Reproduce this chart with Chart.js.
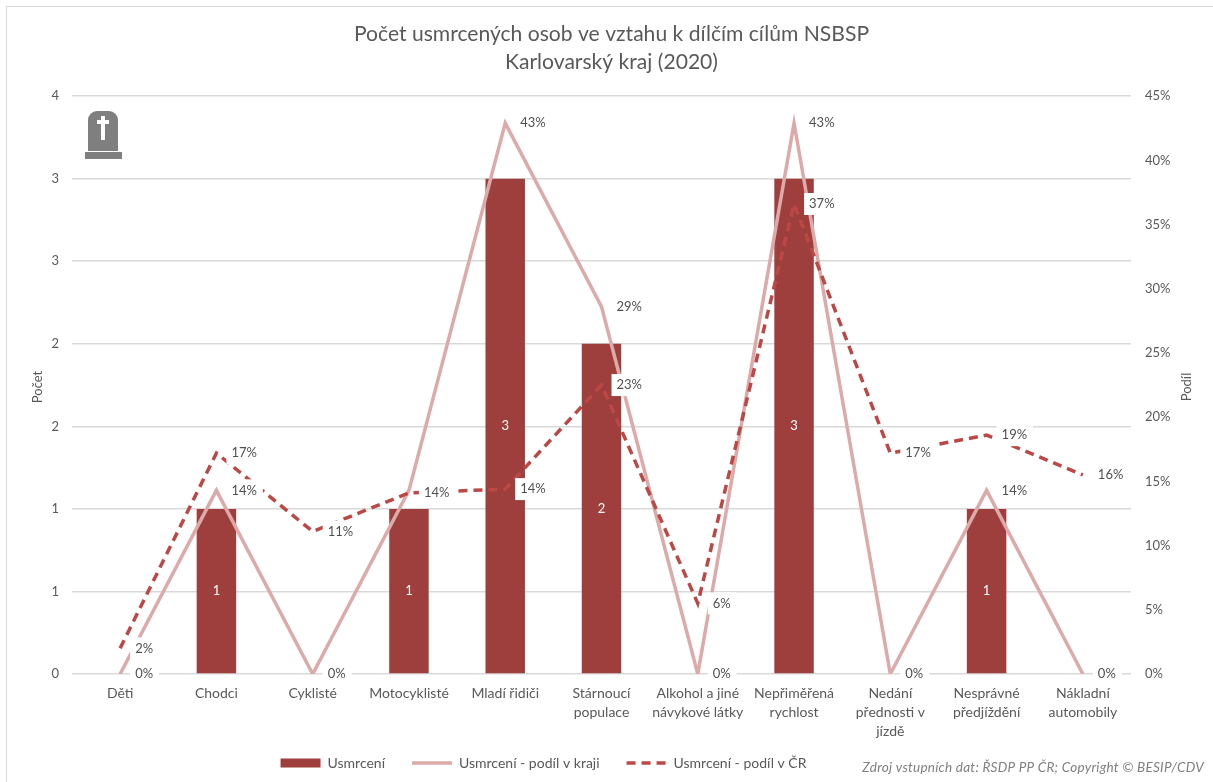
<!DOCTYPE html>
<html lang="cs">
<head>
<meta charset="utf-8">
<title>Počet usmrcených osob</title>
<script src="https://cdn.jsdelivr.net/npm/chart.js@4/dist/chart.umd.min.js"></script>
<style>
	html, body { margin: 0; padding: 0; background: #fff; }
	#wrap { position: relative; width: 1213px; height: 782px; }
	#frame { position: absolute; left: 6px; top: 6px; right: 0; bottom: 0; border-left: 1px solid #d9d9d9; border-top: 1px solid #d9d9d9; pointer-events: none; }
</style>
</head>
<body>
<div id="wrap">
	<canvas id="chart" width="1213" height="782"></canvas>
	<div id="frame"></div>
</div>
<script>
const categories = [
	'Děti',
	'Chodci',
	'Cyklisté',
	'Motocyklisté',
	'Mladí řidiči',
	['Stárnoucí', 'populace'],
	['Alkohol a jiné', 'návykové látky'],
	['Nepřiměřená', 'rychlost'],
	['Nedání', 'přednosti v', 'jízdě'],
	['Nesprávné', 'předjíždění'],
	['Nákladní', 'automobily'],
]
const deaths = [0, 1, 0, 1, 3, 2, 0, 3, 0, 1, 0]
const shareRegion = [0, 14.3, 0, 14.3, 42.9, 28.6, 0, 42.9, 0, 14.3, 0]
const shareCountry = [2, 17.2, 11.1, 14.1, 14.4, 22.5, 5.5, 36.6, 17.2, 18.6, 15.5]

const titleLines = ['Počet usmrcených osob ve vztahu k dílčím cílům NSBSP', 'Karlovarský kraj (2020)']
const sourceNote = 'Zdroj vstupních dat: ŘSDP PP ČR; Copyright © BESIP/CDV'

const fontFamily = 'Lato, "Open Sans", sans-serif'
const textColor = '#595959'
const gridColor = '#d9d9d9'
const barColor = '#9e3f3d'
const regionColor = '#dcaaa9'
const countryColor = '#bc4846'

// white boxed percent labels right of each point, white counts inside bars
const valueLabels = {
	id: 'valueLabels',
	afterDatasetsDraw(chart) {
		const { ctx } = chart
		ctx.save()
		ctx.font = `13px ${fontFamily}`
		ctx.textBaseline = 'middle'
		ctx.textAlign = 'left'
		;[1, 2].forEach((datasetIndex) => {
			const meta = chart.getDatasetMeta(datasetIndex)
			const values = chart.data.datasets[datasetIndex].data
			meta.data.forEach((point, i) => {
				const text = `${Math.round(values[i])}%`
				const width = ctx.measureText(text).width
				ctx.fillStyle = '#fff'
				ctx.fillRect(point.x + 10, point.y - 11, width + 11, 22)
				ctx.fillStyle = '#505050'
				ctx.fillText(text, point.x + 15, point.y)
			})
		})
		ctx.textAlign = 'center'
		ctx.fillStyle = '#fff'
		chart.getDatasetMeta(0).data.forEach((bar, i) => {
			if (deaths[i] > 0) {
				ctx.fillText(`${deaths[i]}`, bar.x, (bar.y + bar.base) / 2)
			}
		})
		ctx.restore()
	},
}

// gravestone icon, side axis titles and source note
const decorations = {
	id: 'decorations',
	afterLayout(chart) {
		chart.legend.left -= 68
		chart.legend.right -= 68
		chart.legend.top -= 2
		chart.legend.bottom -= 2
		// tick labels get clipped to the scale box, the three-line one needs more room
		chart.scales.x.bottom += 20
	},
	afterDraw(chart) {
		const { ctx } = chart
		ctx.save()
		ctx.fillStyle = '#7f7f7f'
		ctx.beginPath()
		ctx.roundRect(88, 111, 30, 40, [9, 9, 0, 0])
		ctx.fill()
		ctx.fillRect(85, 152, 37, 7)
		ctx.fillStyle = '#fff'
		ctx.fillRect(101, 116, 4, 24)
		ctx.fillRect(97, 120, 12, 4)

		ctx.fillStyle = textColor
		ctx.font = `13px ${fontFamily}`
		ctx.textAlign = 'center'
		ctx.textBaseline = 'middle'
		;[['Počet', 38], ['Podíl', 1187]].forEach(([text, x]) => {
			ctx.save()
			ctx.translate(x, 387)
			ctx.rotate(-Math.PI / 2)
			ctx.fillText(text, 0, 0)
			ctx.restore()
		})

		ctx.fillStyle = '#7f7f7f'
		ctx.font = `italic 13.5px ${fontFamily}`
		ctx.textAlign = 'right'
		ctx.letterSpacing = '0.25px'
		ctx.fillText(sourceNote, 1204, 768)
		ctx.restore()
	},
}

const context = document.getElementById('chart').getContext('2d')
new Chart(context, {
	data: {
		labels: categories,
		datasets: [
			{
				type: 'bar',
				label: 'Usmrcení',
				data: deaths,
				backgroundColor: barColor,
				barPercentage: 1,
				categoryPercentage: 0.41,
				yAxisID: 'y',
				order: 3,
			},
			{
				type: 'line',
				label: 'Usmrcení - podíl v kraji',
				data: shareRegion,
				borderColor: regionColor,
				borderWidth: 3.5,
				pointRadius: 0,
				tension: 0,
				yAxisID: 'y1',
				order: 2,
			},
			{
				type: 'line',
				label: 'Usmrcení - podíl v ČR',
				data: shareCountry,
				borderColor: countryColor,
				borderWidth: 3.5,
				borderDash: [9, 6],
				pointRadius: 0,
				tension: 0,
				yAxisID: 'y1',
				order: 1,
			},
		],
	},
	options: {
		responsive: false,
		animation: false,
		layout: { padding: { left: 10, right: 0, top: 0, bottom: 0 } },
		scales: {
			x: {
				grid: { display: false },
				border: { display: false },
				ticks: {
					color: textColor,
					font: { family: fontFamily, size: 14, lineHeight: 1.36 },
					padding: 2,
					autoSkip: false,
					maxRotation: 0,
					minRotation: 0,
				},
				afterFit: (scale) => {
					scale.height = 57
				},
			},
			y: {
				position: 'left',
				min: 0,
				max: 3.5,
				grid: { color: gridColor, lineWidth: 1.5, drawTicks: false },
				border: { display: false },
				ticks: {
					stepSize: 0.5,
					color: textColor,
					font: { family: fontFamily, size: 13 },
					padding: 13,
					callback: (value) => Math.round(value),
				},
				afterFit: (scale) => {
					scale.width = 62
				},
			},
			y1: {
				position: 'right',
				min: 0,
				max: 45,
				grid: { display: false, drawTicks: false },
				border: { display: false },
				ticks: {
					stepSize: 5,
					color: textColor,
					font: { family: fontFamily, size: 13 },
					padding: 14,
					callback: (value) => `${value}%`,
				},
				afterFit: (scale) => {
					scale.width = 82
				},
			},
		},
		plugins: {
			title: {
				display: true,
				text: titleLines,
				color: textColor,
				font: { family: fontFamily, size: 21.1, weight: 'normal', lineHeight: 1.33 },
				padding: { top: 20, bottom: 20 },
			},
			legend: {
				position: 'bottom',
				labels: {
					color: textColor,
					font: { family: fontFamily, size: 14 },
					usePointStyle: true,
					pointStyleWidth: 40,
					boxHeight: 9,
					padding: 27,
					generateLabels: (chart) => chart.data.datasets.map((dataset, i) => ({
						text: dataset.label,
						fontColor: textColor,
						fillStyle: dataset.backgroundColor,
						strokeStyle: dataset.borderColor || barColor,
						lineWidth: i === 0 ? 0 : dataset.borderWidth,
						lineDash: dataset.borderDash || [],
						pointStyle: i === 0 ? 'rect' : 'line',
						datasetIndex: i,
					})),
				},
			},
			tooltip: { enabled: false },
		},
	},
	plugins: [valueLabels, decorations],
})
</script>
</body>
</html>
